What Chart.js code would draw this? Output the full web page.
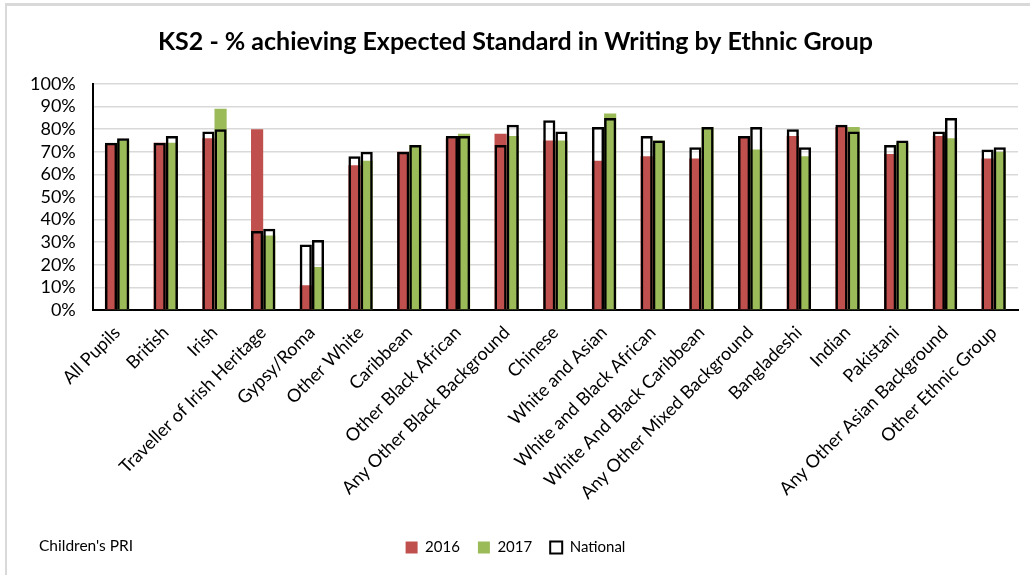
<!DOCTYPE html>
<html>
<head>
<meta charset="utf-8">
<script src="https://cdn.jsdelivr.net/npm/chart.js@4"></script>
<style>
  html, body { margin: 0; padding: 0; background: #fff; }
  #wrap {
    position: relative;
    width: 1030px;
    height: 575px;
    overflow: hidden;
  }
  #frame {
    position: absolute;
    left: 5px; top: 3px; right: -2px; bottom: -2px;
    border-left: 2px solid #d9d9d9;
    border-top: 3px solid #d9d9d9;
  }
  #chart { position: absolute; left: 0; top: 0; }
  #source {
    position: absolute;
    left: 39px; top: 536px;
    font-family: Lato, "Noto Sans", sans-serif;
    font-size: 15.5px;
    color: #000;
  }
</style>
</head>
<body>
<div id="wrap">
  <div id="frame"></div>
  <canvas id="chart" width="1030" height="575"></canvas>
  <div id="source">Children's PRI</div>
</div>
<script>
// KS2 writing results by ethnic group, school vs national
const groups = [
  'All Pupils', 'British', 'Irish', 'Traveller of Irish Heritage', 'Gypsy/Roma',
  'Other White', 'Caribbean', 'Other Black African', 'Any Other Black Background',
  'Chinese', 'White and Asian', 'White and Black African', 'White And Black Caribbean',
  'Any Other Mixed Background', 'Bangladeshi', 'Indian', 'Pakistani',
  'Any Other Asian Background', 'Other Ethnic Group'
];

const pct2016 = [73, 74, 76, 80, 11, 64, 70, 76, 78, 75, 66, 68, 67, 77, 77, 81, 69, 77, 67];
const pct2017 = [75, 74, 89, 33, 19, 66, 73, 78, 77, 75, 87, 75, 81, 71, 68, 81, 74, 76, 70];
const national2016 = [74, 74, 79, 35, 29, 68, 70, 77, 73, 84, 81, 77, 72, 77, 80, 82, 73, 79, 71];
const national2017 = [76, 77, 80, 36, 31, 70, 73, 77, 82, 79, 85, 75, 81, 81, 72, 79, 75, 85, 72];

const yTicks = [0, 10, 20, 30, 40, 50, 60, 70, 80, 90, 100];

const RED = '#c0504d';
const GREEN = '#9bbb59';
const FONT = 'Lato, "Noto Sans", sans-serif';

// each national outline shares a slot (stack) with its year's bar
const barShape = { categoryPercentage: 0.5, barPercentage: 1.0 };

const ctx = document.getElementById('chart').getContext('2d');
new Chart(ctx, {
  type: 'bar',
  data: {
    labels: groups,
    datasets: [
      { label: '2016', data: pct2016, backgroundColor: RED, borderWidth: 0, stack: 'a', order: 2, ...barShape },
      { label: '2017', data: pct2017, backgroundColor: GREEN, borderWidth: 0, stack: 'b', order: 2, ...barShape },
      { label: 'National', data: national2016, backgroundColor: 'rgba(0,0,0,0)', borderColor: '#000', borderWidth: 2.5, stack: 'a', order: 1, ...barShape },
      { label: 'National', data: national2017, backgroundColor: 'rgba(0,0,0,0)', borderColor: '#000', borderWidth: 2.5, stack: 'b', order: 1, ...barShape }
    ]
  },
  options: {
    responsive: false,
    animation: false,
    layout: { padding: { left: 13, right: 12, top: 0, bottom: 10 } },
    plugins: {
      title: {
        display: true,
        text: 'KS2 - % achieving Expected Standard in Writing by Ethnic Group',
        color: '#000',
        font: { family: FONT, size: 25, weight: 'bold' },
        padding: { top: 27, bottom: 27 }
      },
      legend: {
        position: 'bottom',
        labels: {
          color: '#000',
          font: { family: FONT, size: 15 },
          boxWidth: 12,
          boxHeight: 12,
          padding: 18,
          filter: (item) => item.datasetIndex !== 3,
          sort: (a, b) => a.datasetIndex - b.datasetIndex,
          generateLabels: (chart) => {
            const items = Chart.defaults.plugins.legend.labels.generateLabels(chart);
            items.forEach(it => {
              if (it.datasetIndex >= 2) {
                it.fillStyle = '#fff';
                it.strokeStyle = '#000';
                it.lineWidth = 2;
              }
            });
            return items;
          }
        }
      },
      tooltip: { enabled: false }
    },
    scales: {
      x: {
        grid: { display: false },
        border: { color: '#000', width: 2 },
        afterFit: (scale) => { scale.height = 212; },
        ticks: {
          color: '#000',
          font: { family: FONT, size: 18 },
          minRotation: 45,
          maxRotation: 45,
          autoSkip: false,
          padding: 4
        }
      },
      y: {
        min: 0,
        max: 100,
        stacked: false,
        afterBuildTicks: (scale) => {
          scale.ticks = yTicks.map(v => ({ value: v }));
        },
        grid: { color: '#d9d9d9', lineWidth: 1.5, drawTicks: false },
        border: { color: '#000', width: 2 },
        ticks: {
          color: '#000',
          font: { family: FONT, size: 18 },
          autoSkip: false,
          padding: 17,
          callback: (v) => v + '%'
        }
      }
    }
  }
});
</script>
</body>
</html>
